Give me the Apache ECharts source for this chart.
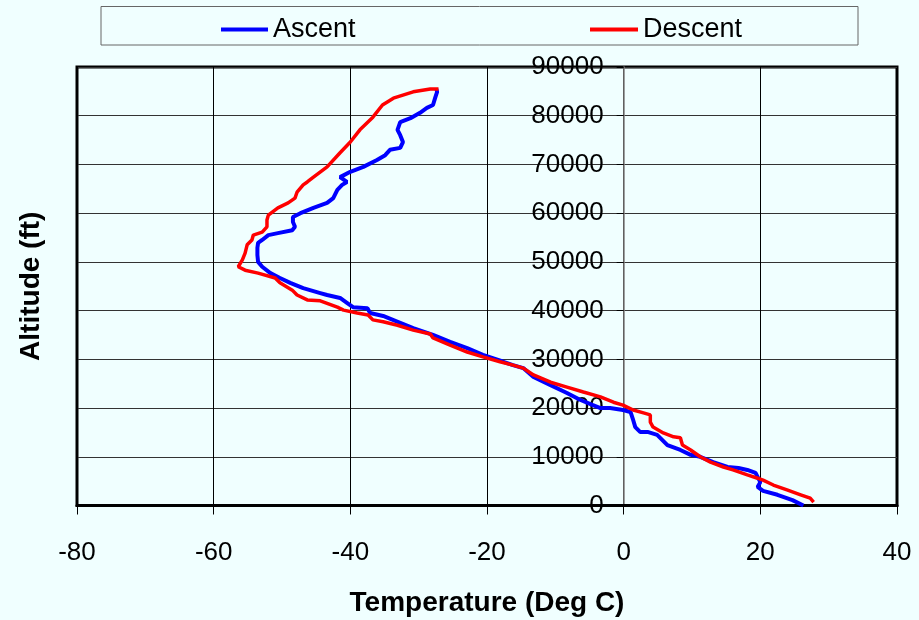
<!DOCTYPE html>
<html>
<head>
<meta charset="utf-8">
<script src="https://cdn.jsdelivr.net/npm/echarts@6/dist/echarts.min.js"></script>
<style>
html,body{margin:0;padding:0;background:#F0FFFF;}
#chart{width:919px;height:620px;}
</style>
</head>
<body>
<div id="chart"></div>
<script>
// Series names
var seriesNames = ['Ascent', 'Descent'];

// Ascent: temperature (deg C) and altitude (ft)
var ascentTemp = [26.3, 24.7, 22.5, 20.4, 19.6, 20.0, 19.3, 18.1, 16.8, 15.2,
  13.1, 11.2, 9.8, 8.3, 6.4, 4.9, 3.5, 2.4, 1.7, 1.4,
  1.0, -0.1, -2.0, -3.4, -4.5, -6.4, -8.3, -10.7, -13.2, -14.7,
  -16.2, -17.6, -20.6, -22.9, -25.4, -27.9, -30.8, -32.7, -35.2, -37.1,
  -37.5, -39.6, -40.5, -41.5, -43.4, -44.4, -46.9, -48.8, -50.3, -51.7,
  -52.9, -53.5, -53.6, -53.6, -53.5, -52.9, -52.0, -50.6, -48.5, -48.1,
  -48.4, -48.4, -47.3, -45.4, -43.4, -42.5, -41.9, -41.2, -40.5, -41.5,
  -40.0, -38.1, -36.1, -34.9, -34.2, -32.7, -32.3, -32.7, -33.1, -32.7,
  -31.2, -29.8, -28.8, -27.9, -27.6, -27.3, -27.4];
var ascentAlt = [0, 1100, 2200, 3000, 3800, 4800, 6700, 7300, 7700, 7900,
  8900, 10000, 10400, 11400, 12400, 14500, 15100, 15100, 16100, 17500,
  19200, 19600, 20000, 20000, 20600, 21700, 23100, 24700, 26400, 28200,
  28800, 29500, 30900, 32300, 33600, 35000, 36400, 37500, 38900, 39500,
  40500, 40700, 41600, 42600, 43200, 43600, 44600, 45700, 46700, 47700,
  49000, 50000, 51400, 52900, 53900, 54500, 55500, 55900, 56500, 57200,
  58200, 59200, 60000, 61100, 62100, 63100, 64800, 65800, 66400, 67400,
  68500, 69500, 70900, 71900, 73000, 73400, 74600, 76000, 77100, 78700,
  79500, 80600, 81600, 82200, 83600, 84900, 85500];

// Descent: temperature (deg C) and altitude (ft)
var descentTemp = [27.8, 27.3, 25.9, 23.9, 21.9, 20.4, 19.6, 18.1, 16.0, 14.6,
  12.7, 11.2, 9.8, 8.6, 8.3, 7.3, 5.8, 4.3, 3.9, 3.9,
  2.9, 1.4, -0.1, -1.5, -3.4, -5.9, -8.3, -10.7, -13.2, -14.7,
  -16.2, -18.1, -20.6, -22.9, -25.4, -27.9, -28.3, -30.8, -33.1, -35.2,
  -36.7, -37.4, -39.0, -41.0, -41.9, -44.4, -46.3, -47.8, -48.5, -50.3,
  -51.0, -53.5, -55.4, -56.4, -56.6, -55.8, -55.4, -55.1, -54.4, -54.2,
  -52.9, -52.2, -52.2, -52.0, -50.6, -49.1, -48.1, -47.8, -46.9, -46.3,
  -45.4, -43.4, -41.5, -40.0, -38.6, -36.7, -35.3, -33.7, -30.8, -28.3,
  -27.1];
var descentAlt = [700, 1500, 2200, 3200, 4200, 5200, 5600, 6300, 7300, 7900,
  8900, 10000, 11400, 12400, 13900, 14100, 14900, 16100, 17100, 18600,
  19000, 19600, 20600, 21200, 22300, 23300, 24300, 25300, 26800, 28200,
  28800, 29500, 30500, 31500, 32900, 34400, 35200, 36000, 37000, 37700,
  38100, 39100, 39500, 40100, 40700, 42000, 42200, 43200, 44200, 45700,
  46700, 47700, 48300, 49000, 49400, 50400, 51800, 53500, 54500, 55500,
  56100, 57200, 58600, 59600, 61100, 62100, 63100, 64300, 65800, 66400,
  67400, 69500, 72400, 74600, 77100, 79700, 82200, 83600, 84900, 85500,
  85500];

// Axis ticks
var xTicks = [-80, -60, -40, -20, 0, 20, 40];
var yTicks = [0, 10000, 20000, 30000, 40000, 50000, 60000, 70000, 80000, 90000];

function pairs(xs, ys) {
  var out = [];
  for (var i = 0; i < xs.length; i++) out.push([xs[i], ys[i]]);
  return out;
}

var FONT = "'Liberation Sans', Arial, sans-serif";
var GRID_LEFT = 77, GRID_RIGHT = 22;
var plotWidth = 919 - GRID_LEFT - GRID_RIGHT;
var xMin = xTicks[0], xMax = xTicks[xTicks.length - 1];
// the vertical axis crosses at temperature 0
var yAxisOffset = -plotWidth * (0 - xMin) / (xMax - xMin);

var chart = echarts.init(document.getElementById('chart'), null, {renderer: 'canvas'});

chart.setOption({
  backgroundColor: '#F0FFFF',
  animation: false,
  textStyle: {fontFamily: FONT},
  graphic: [{
    type: 'rect', z: 0,
    shape: {x: 101, y: 6.5, width: 757, height: 38.5},
    style: {fill: 'none', stroke: '#666666', lineWidth: 1}
  }],
  legend: [{
    data: [seriesNames[0]], left: 221, top: 16, padding: 0,
    icon: 'rect', itemWidth: 47, itemHeight: 4,
    textStyle: {fontSize: 27, color: '#000', fontFamily: FONT}
  }, {
    data: [seriesNames[1]], left: 590, top: 16, padding: 0,
    icon: 'rect', itemWidth: 48, itemHeight: 4,
    textStyle: {fontSize: 27, color: '#000', fontFamily: FONT}
  }],
  grid: {
    left: GRID_LEFT, right: GRID_RIGHT, top: 67, bottom: 114.5,
    containLabel: false, outerBoundsMode: 'none',
    show: true, borderColor: '#000', borderWidth: 3, backgroundColor: 'transparent'
  },
  xAxis: {
    type: 'value',
    min: xMin, max: xMax, interval: xTicks[1] - xTicks[0],
    name: 'Temperature (Deg C)', nameLocation: 'middle', nameGap: 84,
    nameTextStyle: {fontSize: 28, fontWeight: 'bold', color: '#000', fontFamily: FONT},
    axisLine: {show: true, onZero: false, lineStyle: {color: '#000', width: 3}},
    axisTick: {show: true, length: 9, lineStyle: {color: '#000', width: 1}},
    axisLabel: {fontSize: 26, color: '#000', margin: 34, fontFamily: FONT,
      formatter: function (v) { return String(v); }},
    splitLine: {show: true, lineStyle: {color: '#000', width: 1}}
  },
  yAxis: {
    type: 'value', position: 'left', offset: yAxisOffset,
    min: yTicks[0], max: yTicks[yTicks.length - 1], interval: yTicks[1] - yTicks[0],
    name: 'Altitude (ft)', nameLocation: 'middle', nameRotate: 90, nameGap: 578,
    nameTextStyle: {fontSize: 28, fontWeight: 'bold', color: '#000', fontFamily: FONT},
    axisLine: {show: true, onZero: false, lineStyle: {color: '#808080', width: 1.5}},
    axisTick: {show: true, length: 7, lineStyle: {color: '#000', width: 1}},
    axisLabel: {fontSize: 26, color: '#000', margin: 20, fontFamily: FONT,
      formatter: function (v) { return String(v); }},
    splitLine: {show: true, lineStyle: {color: '#333', width: 1}}
  },
  series: [{
    name: seriesNames[0], type: 'line', showSymbol: false, symbol: 'none',
    data: pairs(ascentTemp, ascentAlt),
    itemStyle: {color: '#0000FF'},
    lineStyle: {color: '#0000FF', width: 4}
  }, {
    name: seriesNames[1], type: 'line', showSymbol: false, symbol: 'none',
    data: pairs(descentTemp, descentAlt),
    itemStyle: {color: '#FF0000'},
    lineStyle: {color: '#FF0000', width: 3.5}
  }]
});
</script>
</body>
</html>
